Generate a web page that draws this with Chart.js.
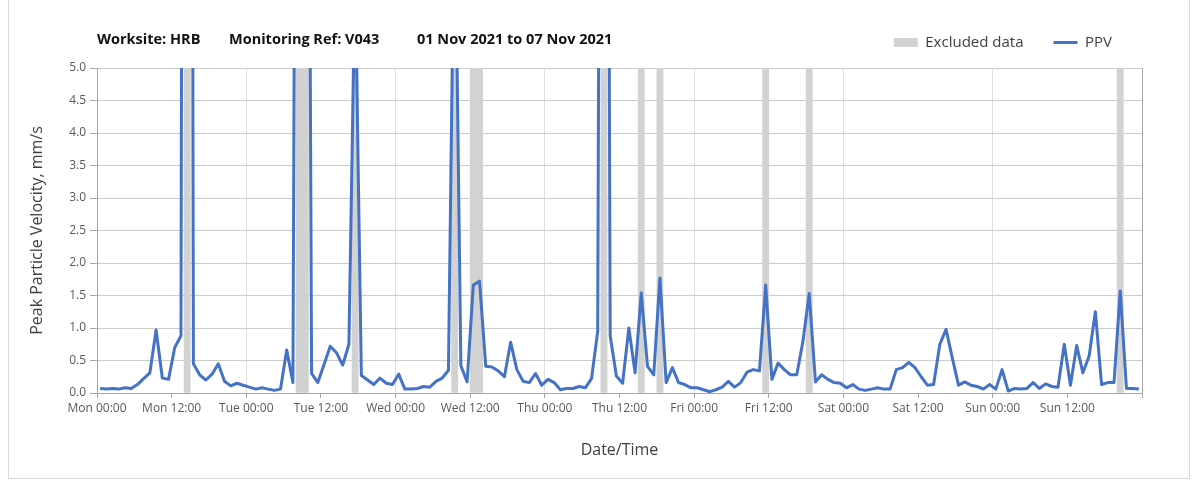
<!DOCTYPE html>
<html>
<head>
<meta charset="utf-8">
<script src="https://cdn.jsdelivr.net/npm/chart.js@4.4.1/dist/chart.umd.min.js"></script>
<style>
  html, body { margin:0; padding:0; background:#fff; }
  #wrap { position:relative; width:1197px; height:482px; overflow:hidden; }
  #frame { position:absolute; left:8px; top:-2px; width:1182px; height:481px; border:1px solid #d9d9d9; box-sizing:border-box; pointer-events:none; }
</style>
</head>
<body>
<div id="wrap">
  <canvas id="chart-ppv" width="1197" height="482"></canvas>
  <div id="frame"></div>
</div>
<script>
// PPV hourly readings, 01-07 Nov 2021 (value i = hour i..i+1 from Mon 00:00)
const dayNames = ['Mon','Tue','Wed','Thu','Fri','Sat','Sun','Mon'];
const titleParts = ['Worksite: HRB', 'Monitoring Ref: V043', '01 Nov 2021 to 07 Nov 2021'];
const ppv = [
  0.07,0.06,0.07,0.06,0.08,0.07,0.13,0.22,0.31,0.97,
  0.23,0.21,0.70,0.88,50,  0.45,0.28,0.20,0.29,0.45,
  0.18,0.11,0.15,0.12,0.09,0.06,0.08,0.06,0.04,0.06,
  0.66,0.16,25,  22,  0.30,0.16,0.44,0.72,0.62,0.43,
  0.75,6.5, 0.27,0.20,0.13,0.23,0.15,0.13,0.29,0.06,
  0.06,0.07,0.10,0.09,0.18,0.23,0.35,8,   0.42,0.17,
  1.66,1.72,0.41,0.40,0.34,0.25,0.78,0.36,0.18,0.16,
  0.30,0.12,0.21,0.16,0.05,0.07,0.07,0.10,0.08,0.22,
  0.95,30,  0.88,0.26,0.15,1.00,0.31,1.54,0.41,0.28,
  1.77,0.16,0.39,0.16,0.13,0.08,0.08,0.05,0.02,0.05,
  0.09,0.18,0.09,0.16,0.32,0.36,0.34,1.66,0.21,0.46,
  0.36,0.28,0.28,0.80,1.53,0.17,0.28,0.21,0.16,0.15,
  0.08,0.13,0.06,0.04,0.06,0.08,0.06,0.06,0.36,0.39,
  0.47,0.39,0.25,0.12,0.13,0.75,0.98,0.54,0.12,0.17,
  0.12,0.10,0.06,0.13,0.06,0.36,0.03,0.07,0.06,0.07,
  0.16,0.07,0.14,0.10,0.09,0.75,0.12,0.73,0.31,0.57,
  1.25,0.13,0.16,0.16,1.57,0.07,0.07,0.06
];
const excluded = [14,32,33,41,57,60,61,81,87,90,107,114,164];
const yMax = 5;
const hoursTotal = 168;

const C = { line:'#4472C4', band:'#d2d2d2', hgrid:'#cccccc', vgrid:'#dedede', axis:'#a6a6a6', tick:'#595959', text:'#404040' };
const titleOffsets = [0, 132, 320];

Chart.defaults.font.family = "'Open Sans', sans-serif";

const sheetTitle = {
  id:'sheetTitle',
  afterDraw(chart) {
    const ctx = chart.ctx, left = chart.chartArea.left;
    ctx.save();
    ctx.font = "bold 14.5px 'Open Sans', sans-serif";
    ctx.fillStyle = '#111';
    ctx.textBaseline = 'middle';
    titleParts.forEach((t, i) => ctx.fillText(t, left + titleOffsets[i], 40));
    ctx.restore();
  }
};

const lineData = ppv.map((v, i) => ({x:i + 0.5, y:v}));
const bandData = ppv.map((v, i) => ({x:i + 0.5, y:excluded.includes(i) ? yMax : null}));

new Chart(document.getElementById('chart-ppv'), {
  type:'line',
  data:{
    datasets:[
      { type:'bar', label:'Excluded data', data:bandData, backgroundColor:C.band, borderWidth:0,
        barPercentage:1, categoryPercentage:1, order:2 },
      { label:'PPV', data:lineData, borderColor:C.line, backgroundColor:C.line, borderWidth:3,
        pointRadius:0, tension:0, borderJoinStyle:'round', order:1 },
    ]
  },
  options:{
    responsive:false, animation:false, events:[],
    layout:{padding:{top:5, right:55, left:0, bottom:0}},
    plugins:{
      tooltip:{enabled:false},
      legend:{
        position:'top', align:'end',
        labels:{
          usePointStyle:true, pointStyleWidth:24, boxHeight:9, padding:30,
          color:C.text, font:{size:15},
          generateLabels: chart => Chart.defaults.plugins.legend.labels.generateLabels(chart)
            .sort((a, b) => a.datasetIndex - b.datasetIndex)
            .map(l => l.datasetIndex === 0
              ? {...l, pointStyle:'rect', lineWidth:0, fillStyle:C.band, strokeStyle:C.band}
              : {...l, pointStyle:'line', lineWidth:3, strokeStyle:C.line}),
        }
      },
    },
    scales:{
      x:{
        type:'linear', min:0, max:hoursTotal, offset:false,
        ticks:{
          stepSize:12, autoSkip:false, maxRotation:0, minRotation:0, padding:3,
          color:C.tick, font:{size:12},
          callback: v => v >= hoursTotal ? '' : dayNames[Math.floor(v / 24)] + (v % 24 === 0 ? ' 00:00' : ' 12:00'),
        },
        grid:{
          offset:false,
          color: c => {
            const v = c.tick ? c.tick.value : 0;
            if (v === hoursTotal) return C.axis;
            return v % 24 === 0 ? C.vgrid : 'rgba(0,0,0,0)';
          },
          tickColor:C.axis, tickLength:5,
        },
        border:{color:C.axis},
        title:{display:true, text:'Date/Time', color:C.text, font:{size:16}, padding:{top:0, bottom:22}},
        afterFit: s => { s.height = 89; },
      },
      xTop:{
        type:'linear', axis:'x', position:'top', min:0, max:1, display:true,
        ticks:{display:false}, grid:{display:false, drawTicks:false}, border:{display:false},
        afterFit: s => { s.height = 8; },
      },
      y:{
        min:0, max:yMax,
        ticks:{stepSize:0.5, padding:4, color:C.tick, font:{size:12}, callback: v => v.toFixed(1)},
        grid:{color:C.hgrid, tickColor:C.axis, tickLength:7},
        border:{color:C.axis},
        title:{display:true, text:'Peak Particle Velocity, mm/s', color:C.text, font:{size:16}, padding:{top:28, bottom:0}},
        afterFit: s => { s.width = 97; },
      }
    }
  },
  plugins:[sheetTitle]
});
</script>
</body>
</html>
